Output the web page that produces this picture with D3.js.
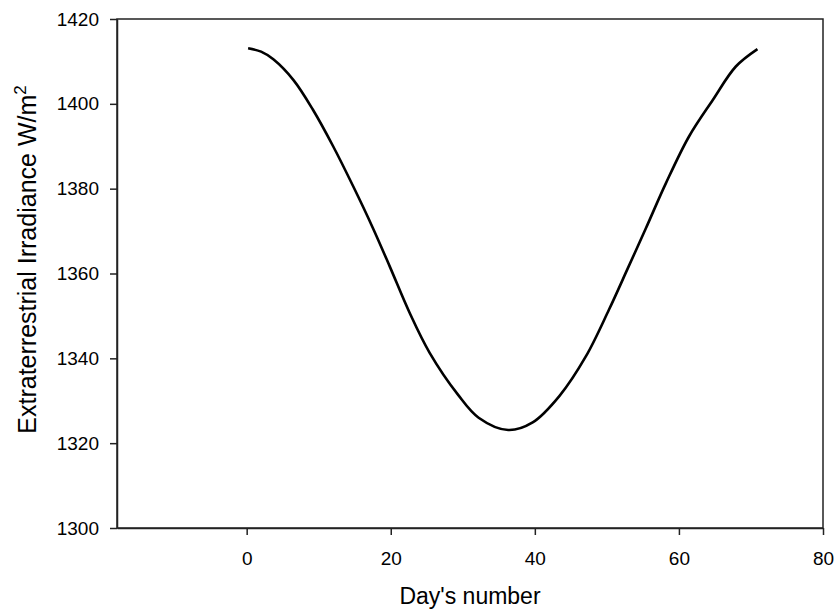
<!DOCTYPE html>
<html>
<head>
<meta charset="utf-8">
<script src="https://cdn.jsdelivr.net/npm/d3@7"></script>
<style>
  html, body { margin: 0; padding: 0; background: #fff; }
  svg { display: block; font-family: "Liberation Sans", Arial, sans-serif; }
</style>
</head>
<body>
<svg id="chart" width="835" height="610"></svg>
<script>
// Day of the record
const days = [0.2, 2.0, 3.7, 6.5, 9.2, 12.0, 14.8, 17.5, 19.9, 22.6, 25.4, 29.3, 32.2,
              36.3, 39.7, 43.4, 47.1, 50.3, 52.9, 55.4, 58.2, 61.4, 64.7, 67.9, 70.9];
// Extraterrestrial irradiance, W/m²
const irradiance = [1413.1, 1412.3, 1410.5, 1405.6, 1398.6, 1390.0, 1380.5, 1370.8, 1361.5, 1350.8, 1341.3, 1331.5, 1326.0,
                    1323.1, 1324.9, 1331.1, 1340.5, 1351.5, 1361.2, 1370.6, 1381.3, 1392.3, 1400.9, 1408.8, 1412.9];
const xTicks = [0, 20, 40, 60, 80];
const yTicks = [1300, 1320, 1340, 1360, 1380, 1400, 1420];

const svg = d3.select("#chart");
const plotLeft = 117, plotRight = 823, plotTop = 19, plotBottom = 528;

const x = d3.scaleLinear().domain([-18, 80]).range([plotLeft, plotRight]);
const y = d3.scaleLinear().domain([1300, 1420]).range([plotBottom, plotTop]);

const axisColor = "#222";

// Frame around the plot area
svg.append("rect")
  .attr("x", plotLeft).attr("y", plotTop)
  .attr("width", plotRight - plotLeft).attr("height", plotBottom - plotTop)
  .attr("fill", "none").attr("stroke", axisColor).attr("stroke-width", 1.5);

const gx = svg.append("g")
  .attr("transform", `translate(0,${plotBottom})`)
  .call(d3.axisBottom(x).tickValues(xTicks).tickFormat(d3.format("d"))
    .tickSize(7).tickPadding(17).tickSizeOuter(0));

const gy = svg.append("g")
  .attr("transform", `translate(${plotLeft},0)`)
  .call(d3.axisLeft(y).tickValues(yTicks).tickFormat(d3.format("d"))
    .tickSize(7).tickPadding(11).tickSizeOuter(0));

[gx, gy].forEach(g => {
  g.attr("font-size", null).attr("font-family", null);
  g.select(".domain").attr("stroke", axisColor).attr("stroke-width", 1.5);
  g.selectAll(".tick line").attr("stroke", axisColor).attr("stroke-width", 1.5);
  g.selectAll(".tick text")
    .attr("fill", "#000")
    .style("font-family", '"Liberation Sans", Arial, sans-serif')
    .style("font-size", "19px");
});

// Irradiance curve
const pts = days.map((d, i) => [d, irradiance[i]]);
svg.append("path")
  .datum(pts)
  .attr("fill", "none")
  .attr("stroke", "#000")
  .attr("stroke-width", 2.6)
  .attr("stroke-linejoin", "round")
  .attr("d", d3.line().x(d => x(d[0])).y(d => y(d[1])).curve(d3.curveCatmullRom.alpha(0.5)));

// Axis titles
svg.append("text")
  .attr("x", (plotLeft + plotRight) / 2).attr("y", 604)
  .attr("text-anchor", "middle")
  .style("font-size", "23px")
  .text("Day's number");

const yt = svg.append("text")
  .attr("transform", `translate(36,${(plotTop + plotBottom) / 2 - 14}) rotate(-90)`)
  .attr("text-anchor", "middle")
  .style("font-size", "25px");
yt.append("tspan").text("Extraterrestrial Irradiance W/m");
yt.append("tspan").attr("dy", "-0.6em").style("font-size", "17px").text("2");
</script>
</body>
</html>
